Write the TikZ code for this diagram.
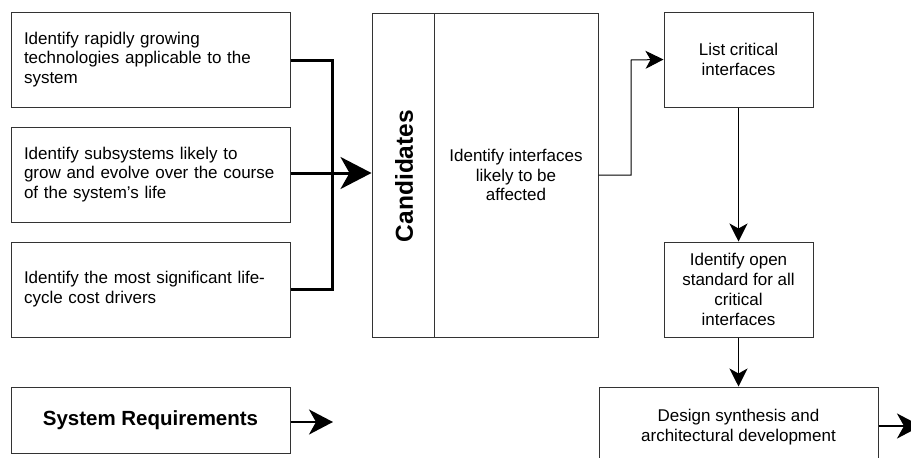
\documentclass[tikz,border=0pt]{standalone}
\usepackage{fontspec}
\setmainfont{Liberation Sans}
\usetikzlibrary{arrows.meta}

\begin{document}
\begin{tikzpicture}[
    x=1pt, y=-1pt,
    box/.style={draw=black!80, line width=1pt, rectangle, inner sep=0pt,
                font=\fontsize{17}{19.8}\selectfont},
    leftbox/.style={box, minimum height=95pt, text width=253pt, inner xsep=13pt, align=left},
    midbox/.style={box, align=center},
    thin/.style={line width=1pt, -{Stealth[length=18pt, width=18pt, inset=5pt]}},
    bus/.style={line width=3pt, line join=miter}
]
  \useasboundingbox (0,0) rectangle (911,458);

  % 左侧三个输入框
  \node[leftbox] (rapid) at (150.5,59.5) {Identify rapidly growing\\technologies applicable to the\\system};
  \node[leftbox] (evolve) at (150.5,174.5) {Identify subsystems likely to\\grow and evolve over the course\\of the system’s life};
  \node[leftbox] (cost) at (150.5,289.5) {Identify the most significant life-\\cycle cost drivers};
  \node[box, minimum width=279pt, minimum height=66pt, font=\fontsize{20.5}{24}\selectfont\bfseries]
    (sysreq) at (150.5,420) {System Requirements};

  % 候选框
  \node[midbox, minimum width=62pt, minimum height=324pt] (cands) at (403,175) {};
  \node[font=\fontsize{24.5}{28}\selectfont\bfseries, rotate=90] at (404,176) {Candidates};
  \node[midbox, minimum width=164pt, minimum height=324pt] (affected) at (516,175) {Identify interfaces\\likely to be\\affected};

  % 右侧步骤
  \node[midbox, minimum width=149pt, minimum height=95pt] (critical) at (738.5,59.5) {List critical\\interfaces};
  \node[midbox, minimum width=149pt, minimum height=95pt] (openstd) at (738.5,289.5) {Identify open\\standard for all\\critical\\interfaces};
  \node[midbox, minimum width=279pt, minimum height=80pt] (design) at (738.5,427) {Design synthesis and\\architectural development};

  \coordinate (sysout) at (333,422);
  \coordinate (designout) at (921,426);

  % 粗线汇总
  \draw[bus] (rapid.east |- 0,60) -- (332,60) -- (332,289) -- (cost.east |- 0,289);
  \draw[bus, -{Stealth[length=31pt, width=32pt, inset=9pt]}] (evolve.east |- 0,173) -- (cands.west |- 0,173);

  % 细线连接
  \draw[thin] (affected.east) -- (631,175) -- (631,60) -- (critical.west);
  \draw[thin] (critical.south) -- (openstd.north);
  \draw[thin] (openstd.south) -- (design.north);
  \draw[line width=2pt, -{Stealth[length=24pt, width=25pt, inset=7pt]}] (sysreq.east |- sysout) -- (sysout);
  \draw[line width=2pt, -{Stealth[length=24pt, width=25pt, inset=7pt]}] (design.east |- designout) -- (designout);
\end{tikzpicture}
\end{document}
